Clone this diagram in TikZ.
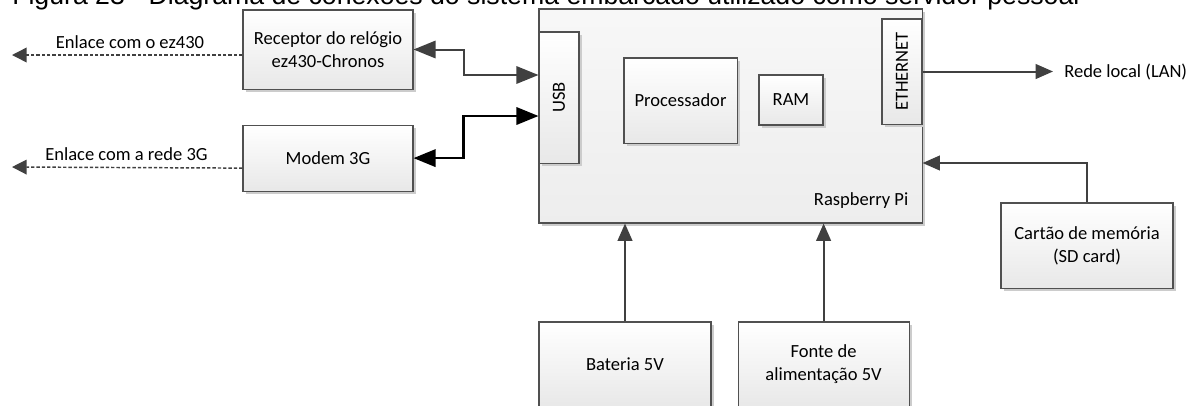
\documentclass[tikz,border=0pt]{standalone}
\usepackage{fontspec}
\setmainfont{Carlito}
\newfontfamily\captionfont{Liberation Sans}
\usetikzlibrary{arrows.meta,positioning,shadows,calc}
\definecolor{linegray}{RGB}{64,64,64}
\definecolor{edgegray}{RGB}{80,80,80}

\begin{document}
\begin{tikzpicture}[
    x=0.75pt, y=-0.75pt,
    every node/.style={align=center, font=\fontsize{13.9}{17.4}\selectfont},
    block/.style={rectangle, draw=edgegray, line width=0.8pt, top color=white, bottom color=black!9, inner sep=0pt, drop shadow={shadow xshift=2.2pt, shadow yshift=-2.2pt, fill=black!20, opacity=1}},
    board/.style={block, top color=black!3, bottom color=black!7},
    arrow/.style={line width=1.5pt, draw=linegray, ->, >={Triangle[length=13pt,width=11pt]}},
    link/.style={line width=1.5pt, draw=linegray, <->, >={Triangle[length=16.5pt,width=13pt]}},
    dasharrow/.style={line width=1.1pt, draw=linegray, dash pattern=on 2.5pt off 1.5pt, ->, >={Triangle[length=11pt,width=11pt]}}
]

\fill[white] (0,0) rectangle (1197,405);
\useasboundingbox (0,0) rectangle (1197,405);
\clip (0,0) rectangle (1197,405);

% Caption (cut at the top)
\node[anchor=base west, inner sep=0pt, font=\captionfont\fontsize{20}{24}\selectfont] (caption) at (12,4) {Figura 23 - Diagrama de conexões do sistema embarcado utilizado como servidor pessoal};

% Raspberry Pi board
\node[board, minimum width=287.3pt, minimum height=160.5pt] (rpi) at (730.5,116) {};
\node[anchor=east] (rpilabel) at (913,201) {Raspberry Pi};
\node[block, minimum width=30pt, minimum height=98.3pt] (usb) at (559,97.5) {\rotatebox{90}{USB}};
\node[block, minimum width=84.8pt, minimum height=63.8pt] (cpu) at (680.5,100.5) {Processador};
\node[block, minimum width=48pt, minimum height=37.5pt] (ram) at (791,100) {RAM};
\node[block, minimum width=30pt, minimum height=78.8pt] (eth) at (902,71.5) {\rotatebox{90}{ETHERNET}};

% Devices on the left
\node[block, minimum width=127.5pt, minimum height=59.3pt] (rcv) at (328,49.5) {Receptor do relógio\\ez430-Chronos};
\node[block, minimum width=127.5pt, minimum height=49.5pt, below=26.25pt of rcv] (modem) {Modem 3G};

% Power and storage
\node[block, minimum width=129pt, minimum height=63.8pt] (bat) at (625,364.5) {Bateria 5V};
\node[block, minimum width=128.3pt, minimum height=63.8pt, right=19.5pt of bat] (psu) {Fonte de\\alimentação 5V};
\node[block, minimum width=129pt, minimum height=63.8pt] (sd) at (1087,245.5) {Cartão de memória\\(SD card)};

% Free ends and their labels
\coordinate (ezend) at (12,55);
\coordinate (gend) at (12,167);
\coordinate (lanend) at (1053,71.5);
\node (ezlabel) at (130,42) {Enlace com o ez430};
\node (glabel) at (126.5,154) {Enlace com a rede 3G};
\node[anchor=west, inner sep=0pt] (lan) at (1064,72) {Rede local (LAN)};

% Connections
\draw[dasharrow] ($(rcv.west)+(0,5.5)$) -- (ezend);
\draw[dasharrow] ($(modem.west)+(0,10)$) -- (gend);
\draw[link] (rcv.east) -- ++(50,0) |- ($(usb.west)+(0,-22.5)$);
\draw[link, draw=black, line width=1.7pt] (modem.east) -- ++(50,0) |- ($(usb.west)+(0,18.5)$);
\draw[arrow] (eth.east) -- (lanend);
\draw[arrow] (sd.north) |- ($(rpi.east)+(0,47)$);
\draw[arrow] (bat.north) -- (bat.north |- rpi.south);
\draw[arrow] (psu.north) -- (psu.north |- rpi.south);

\end{tikzpicture}
\end{document}
